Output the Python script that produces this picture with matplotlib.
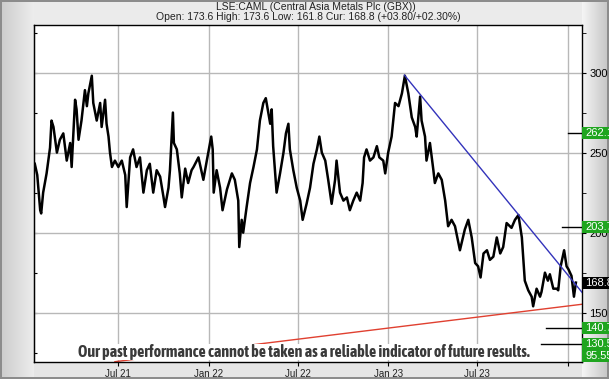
import numpy as np
import pandas as pd
import matplotlib

matplotlib.use("Agg")
import matplotlib.pyplot as plt
import matplotlib.transforms as mtransforms
from matplotlib import font_manager
from matplotlib.font_manager import FontProperties
from matplotlib.patches import Rectangle

# ---- data (days since 2021-01-01, price in GBX) ----
days = [11, 16, 22, 24, 28, 35, 42, 45, 49, 56, 62, 69, 76, 83, 86, 93, 96, 100, 106, 113,
        117, 120, 127, 130, 137, 144, 147, 154, 157, 161, 164, 168, 174, 181, 188, 195, 198,
        205, 211, 218, 225, 232, 239, 245, 252, 259, 266, 273, 276, 283, 286, 292, 294, 300,
        306, 310, 317, 323, 330, 334, 344, 354, 361, 370, 373, 375, 381, 388, 393, 402, 412,
        418, 425, 427, 432, 435, 442, 449, 456, 463, 469, 476, 481, 486, 490, 493, 496, 503,
        510, 517, 522, 527, 530, 537, 544, 551, 556, 564, 571, 578, 585, 590, 595, 602, 608,
        615, 622, 625, 632, 639, 646, 652, 659, 666, 673, 678, 681, 686, 693, 700, 707, 712,
        720, 724, 730, 737, 744, 751, 758, 764, 771, 778, 785, 788, 795, 798, 805, 808, 815,
        822, 825, 832, 839, 846, 852, 859, 866, 876, 886, 893, 900, 907, 913, 918, 924, 931,
        937, 944, 951, 958, 964, 971, 981, 988, 995, 1002, 1008, 1015, 1022, 1025, 1032, 1039,
        1042, 1049, 1055, 1059, 1066, 1073, 1076, 1081, 1088, 1093, 1097, 1103, 1108, 1112]
price = [243, 236, 214, 212, 225, 237, 253, 270, 266, 250, 258, 262, 245, 256, 241, 283, 277,
         258, 270, 289, 279, 287, 298, 281, 270, 281, 266, 283, 268, 260, 250, 241, 245, 241,
         245, 236, 216, 247, 252, 241, 247, 225, 239, 243, 225, 239, 235, 222, 216, 228, 239,
         275, 256, 252, 237, 222, 240, 231, 239, 241, 247, 233, 245, 260, 252, 225, 239, 228,
         214, 227, 237, 233, 220, 191, 208, 200, 216, 231, 241, 252, 270, 281, 284, 275, 268,
         277, 254, 225, 237, 250, 262, 268, 252, 239, 228, 220, 208, 218, 228, 243, 252, 260,
         250, 245, 233, 218, 233, 245, 225, 220, 222, 214, 220, 225, 220, 231, 247, 252, 245,
         247, 254, 247, 245, 237, 250, 260, 281, 279, 287, 298, 287, 272, 266, 260, 285, 270,
         260, 245, 256, 239, 231, 237, 233, 220, 204, 208, 204, 189, 202, 208, 197, 181, 179,
         172, 187, 189, 183, 185, 197, 187, 191, 206, 203, 208, 211, 197, 170, 164, 160, 154,
         165, 160, 163, 175, 170, 174, 165, 165, 164, 179, 189, 179, 177, 173, 160, 168.8]

# trend lines (date, value) end points
blue_dates = ["2023-02-03", "2024-01-31"]
blue_vals = [298.4, 162.5]
red_dates = ["2021-06-24", "2024-01-31"]
red_vals = [119.4, 155.3]

# target levels drawn as short black lines near the right edge
levels = [262.1, 203.7, 140.7, 130.5]
level_starts = ["2024-01-01", "2023-12-21", "2023-11-18", "2023-11-08"]
box_vals = [262.1, 203.7, 168.8, 140.7, 130.5, 95.55]
box_text = ["262.1", "203.7", "168.8", "140.7", "130.5", "95.55"]
box_cols = ["#1fa51f", "#1fa51f", "#000000", "#1fa51f", "#1fa51f", "#1fa51f"]

tick_dates = ["2021-07-01", "2022-01-01", "2022-07-01", "2023-01-01", "2023-07-01", "2024-01-01"]
tick_labels = ["Jul 21", "Jan 22", "Jul 22", "Jan 23", "Jul 23", ""]

DISCLAIMER = "Our past performance cannot be taken as a reliable indicator of future results."


def narrow_bold():
    """Pick a condensed bold face if one is installed, else plain bold Liberation Sans."""
    fonts = font_manager.fontManager.ttflist
    for f in fonts:
        bold = f.weight in ("bold", 700, "700")
        if bold and ("Narrow" in f.name or "Condensed" in f.name):
            return FontProperties(fname=f.fname)
    for f in fonts:
        bold = f.weight in ("bold", 700, "700")
        if bold and f.stretch in ("condensed", "semi-condensed", "extra-condensed"):
            return FontProperties(fname=f.fname)
    return FontProperties(family="Liberation Sans", weight="bold")


W, H = 609, 379
fig = plt.figure(figsize=(W / 100, H / 100), dpi=100)

# bevelled grey frame
bg = fig.add_axes([0, 0, 1, 1], zorder=-10)
img = np.full((H, W), 0.92)
xs = np.arange(W)
img[:, :34] = (0.80 + 0.13 * xs[:34] / 34)[None, :]
img[:, 582:] = (0.96 - 0.20 * (xs[582:] - 582) / 27)[None, :]
img[:25, 34:582] = 0.925
img[362:, 34:582] = 0.90
img[:2, :] = img[-2:, :] = 0.55
img[:, :2] = img[:, -2:] = 0.55
bg.imshow(np.dstack([img] * 3), aspect="auto", extent=(0, 1, 0, 1), interpolation="nearest")
bg.axis("off")

ax = fig.add_axes([34.3 / W, 1 - 361.7 / H, 548 / W, 336.4 / H])
t0 = pd.Timestamp("2021-01-01")
dates = t0 + pd.to_timedelta(days, "D")

ax.plot(dates, price, color="black", lw=1.8, zorder=3)
ax.plot(pd.to_datetime(blue_dates), blue_vals, color="#3333bb", lw=1.0, zorder=4)
ax.plot(pd.to_datetime(red_dates), red_vals, color="#e04030", lw=1.0, zorder=2)
for v, s in zip(levels, level_starts):
    ax.plot([pd.Timestamp(s), pd.Timestamp("2024-01-31")], [v, v], color="black", lw=1.0, zorder=4)

ax.set_xlim(pd.Timestamp("2021-01-11"), pd.Timestamp("2024-01-31"))
ax.set_ylim(119.4, 329.5)
ax.set_xticks(pd.to_datetime(tick_dates))
ax.set_xticklabels(tick_labels, fontsize=7, family="Liberation Sans", color="#222222")
ax.set_yticks([150, 200, 250, 300])
ax.set_yticks(np.arange(125, 330, 25), minor=True)
ax.yaxis.tick_right()
ax.tick_params(axis="y", which="both", direction="out", length=3, labelsize=8, pad=2)
ax.tick_params(axis="x", direction="out", length=3, pad=2)
for lab in ax.get_yticklabels():
    lab.set_family("Liberation Sans")
ax.grid(True, which="major", color="#b8b8b8", lw=1.0, zorder=0)
for sp in ax.spines.values():
    sp.set_color("black")
    sp.set_linewidth(1.0)

left = ax.secondary_yaxis("left")
left.set_yticks(np.arange(125, 330, 25))
left.tick_params(direction="in", length=2, labelleft=False)

# coloured value boxes on the right
trans = mtransforms.blended_transform_factory(ax.transAxes, ax.transData)
box_h = 12 / 1.6
for v, t, c in zip(box_vals, box_text, box_cols):
    y = v if v > 119.4 + box_h / 2 else 119.4 + box_h / 2
    ax.add_patch(Rectangle((1.0, y - box_h / 2), 0.08, box_h, transform=trans,
                           facecolor=c, edgecolor="none", clip_on=False, zorder=5))
    ax.text(1.006, y, t, transform=trans, color="white", fontsize=8, va="center",
            ha="left", family="Liberation Sans", clip_on=False, zorder=6)

fp = narrow_bold()
fp.set_size(11.5)
disc = fig.text(304 / W, 1 - 352 / H, DISCLAIMER, ha="center", va="center",
                fontproperties=fp, color="#3a3a3a", zorder=7,
                bbox=dict(facecolor="white", edgecolor="none", pad=0.2))
# shrink the disclaimer to the reference's width (about 482 px)
renderer = fig.canvas.get_renderer()
wpx = disc.get_window_extent(renderer).width
if wpx > 482:
    fp.set_size(11.5 * 482 / wpx)
    disc.set_fontproperties(fp)

fig.text(316 / W, 1 - 6.5 / H, "LSE:CAML (Central Asia Metals Plc (GBX))", ha="center", va="center",
         fontsize=7.5, family="Liberation Sans", color="#222222")
fig.text(308 / W, 1 - 16.5 / H, "Open: 173.6 High: 173.6 Low: 161.8 Cur: 168.8 (+03.80/+02.30%)",
         ha="center", va="center", fontsize=7.5, family="Liberation Sans", color="#222222")

fig.savefig("out.png", dpi=100)
